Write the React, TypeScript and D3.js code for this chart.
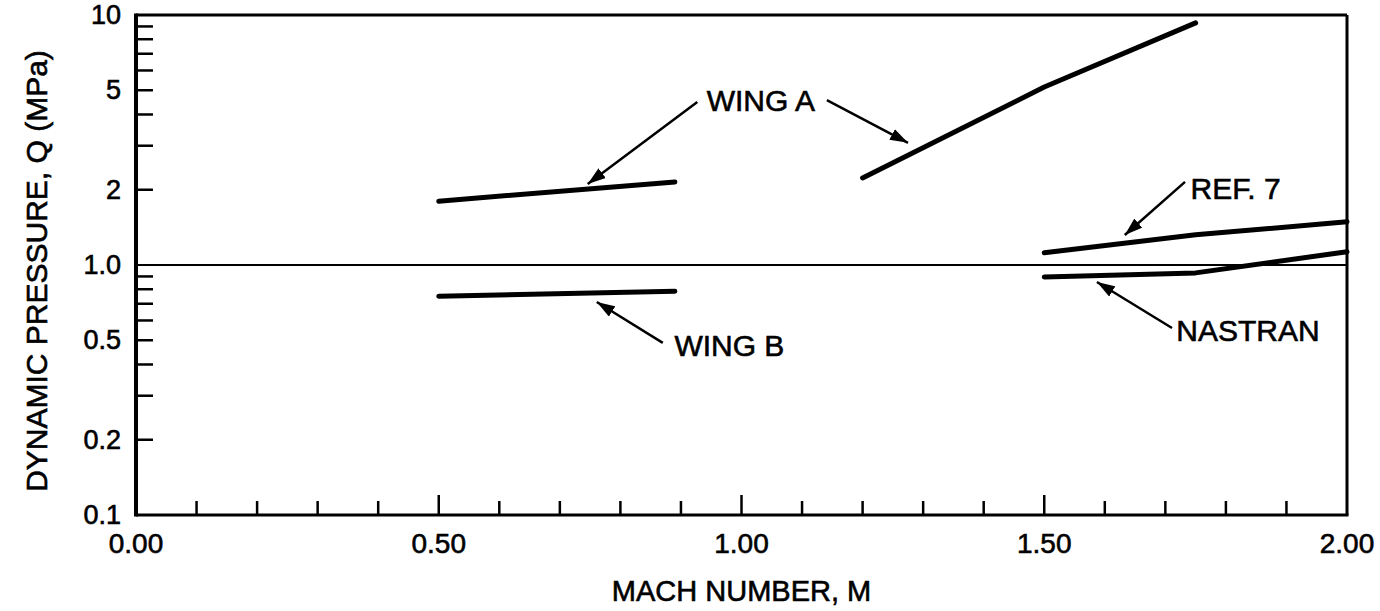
import { scaleLinear, scaleLog, line, range } from "d3";

// Mach number, dynamic pressure Q (MPa)
const wingAMachLow = [0.5, 0.89];
const wingAQLow = [1.8, 2.15];
const wingAMachHigh = [1.2, 1.5, 1.75];
const wingAQHigh = [2.23, 5.15, 9.3];
const wingBMach = [0.5, 0.89];
const wingBQ = [0.75, 0.785];
const ref7Mach = [1.5, 1.75, 2.0];
const ref7Q = [1.12, 1.32, 1.49];
const nastranMach = [1.5, 1.75, 2.0];
const nastranQ = [0.895, 0.93, 1.13];

const xTickLabels = ["0.00", "0.50", "1.00", "1.50", "2.00"];
const yTickValues = [10, 5, 2, 1, 0.5, 0.2, 0.1];
const yTickLabels = ["10", "5", "2", "1.0", "0.5", "0.2", "0.1"];

// labels: [text, mach, q] and arrows: [mach0, q0, mach1, q1]
const labels: [string, number, number][] = [
  ["WING A", 1.032, 4.57],
  ["WING B", 0.98, 0.476],
  ["REF. 7", 1.816, 2.02],
  ["NASTRAN", 1.8365, 0.545],
];
const arrows: [number, number, number, number][] = [
  [0.927, 4.49, 0.746, 2.11],
  [1.141, 4.57, 1.275, 3.08],
  [0.87, 0.488, 0.761, 0.711],
  [1.7325, 2.15, 1.633, 1.318],
  [1.711, 0.56, 1.587, 0.855],
];

const W = 1380;
const H = 611;
const left = 136;
const right = 1347;
const top = 15;
const bottom = 515;
const font = "'Liberation Sans', Arial, sans-serif";
// scanned lettering is a little heavier than the plain face
const ink = { fill: "#000", stroke: "#000", strokeWidth: 0.6 };

export default function App() {
  const x = scaleLinear().domain([0, 2]).range([left, right]);
  const y = scaleLog().domain([0.1, 10]).range([bottom, top]);

  const seg = (ms: number[], qs: number[]) =>
    line<number>()
      .x((m) => x(m))
      .y((_, i) => y(qs[i]))(ms) || "";

  const series = [
    seg(wingAMachLow, wingAQLow),
    seg(wingAMachHigh, wingAQHigh),
    seg(wingBMach, wingBQ),
    seg(ref7Mach, ref7Q),
    seg(nastranMach, nastranQ),
  ];

  // minor ticks on the log axis: 2..9 in each decade
  const yMinor = [0.1, 1].flatMap((d) => range(2, 10).map((k) => k * d));
  const xMinor = range(1, 20).map((k) => k / 10);

  return (
    <svg
      width={W}
      height={H}
      style={{ position: "absolute", left: 0, top: 0, background: "#fff" }}
    >
      <defs>
        <marker
          id="head"
          markerUnits="userSpaceOnUse"
          markerWidth={20}
          markerHeight={12}
          refX={18}
          refY={6}
          orient="auto"
        >
          <path d="M0,0 L18,6 L0,12 Z" fill="#000" />
        </marker>
      </defs>

      {/* frame */}
      <line x1={left} x2={right} y1={top} y2={top} stroke="#000" strokeWidth={3} />
      <line x1={right} x2={right} y1={top} y2={bottom} stroke="#000" strokeWidth={3} />
      <line x1={left} x2={left} y1={top - 1.5} y2={bottom + 1.5} stroke="#000" strokeWidth={4} />
      <line x1={left} x2={right + 1.5} y1={bottom} y2={bottom} stroke="#000" strokeWidth={3} />

      {/* reference line at Q = 1 */}
      <line x1={left} x2={right} y1={y(1)} y2={y(1)} stroke="#000" strokeWidth={2} />

      {/* y ticks */}
      {yMinor.map((v) => (
        <line key={"ym" + v} x1={left} x2={left + 17} y1={y(v)} y2={y(v)} stroke="#000" strokeWidth={2.5} />
      ))}
      {yTickValues.map((v, i) => (
        <text
          key={"yl" + v}
          x={left - 15}
          y={y(v)}
          textAnchor="end"
          dominantBaseline="central"
          fontFamily={font}
          fontSize={27}
          {...ink}
        >
          {yTickLabels[i]}
        </text>
      ))}

      {/* x ticks */}
      {xMinor.map((v) => {
        const major = Math.abs((v * 10) % 5) < 1e-6;
        return (
          <line
            key={"xm" + v}
            x1={x(v)}
            x2={x(v)}
            y1={bottom}
            y2={bottom - (major ? 20 : 14)}
            stroke="#000"
            strokeWidth={2.5}
          />
        );
      })}
      {xTickLabels.map((t, i) => (
        <text
          key={"xl" + t}
          x={x(i * 0.5)}
          y={553}
          textAnchor="middle"
          fontFamily={font}
          fontSize={28}
          {...ink}
        >
          {t}
        </text>
      ))}

      {/* axis titles */}
      <text x={(left + right) / 2} y={601} textAnchor="middle" fontFamily={font} fontSize={29} {...ink}>
        MACH NUMBER, M
      </text>
      <text
        transform={`translate(47, ${(top + bottom) / 2 + 6}) rotate(-90)`}
        textAnchor="middle"
        fontFamily={font}
        fontSize={30}
        {...ink}
      >
        DYNAMIC PRESSURE, Q (MPa)
      </text>

      {/* data */}
      {series.map((d, i) => (
        <path key={"s" + i} d={d} fill="none" stroke="#000" strokeWidth={5} strokeLinecap="round" strokeLinejoin="round" />
      ))}

      {/* annotations */}
      {arrows.map(([m0, q0, m1, q1], i) => (
        <line
          key={"a" + i}
          x1={x(m0)}
          y1={y(q0)}
          x2={x(m1)}
          y2={y(q1)}
          stroke="#000"
          strokeWidth={2.5}
          markerEnd="url(#head)"
        />
      ))}
      {labels.map(([t, m, q]) => (
        <text
          key={t}
          x={x(m)}
          y={y(q)}
          textAnchor="middle"
          dominantBaseline="central"
          fontFamily={font}
          fontSize={30}
          {...ink}
        >
          {t}
        </text>
      ))}
    </svg>
  );
}
